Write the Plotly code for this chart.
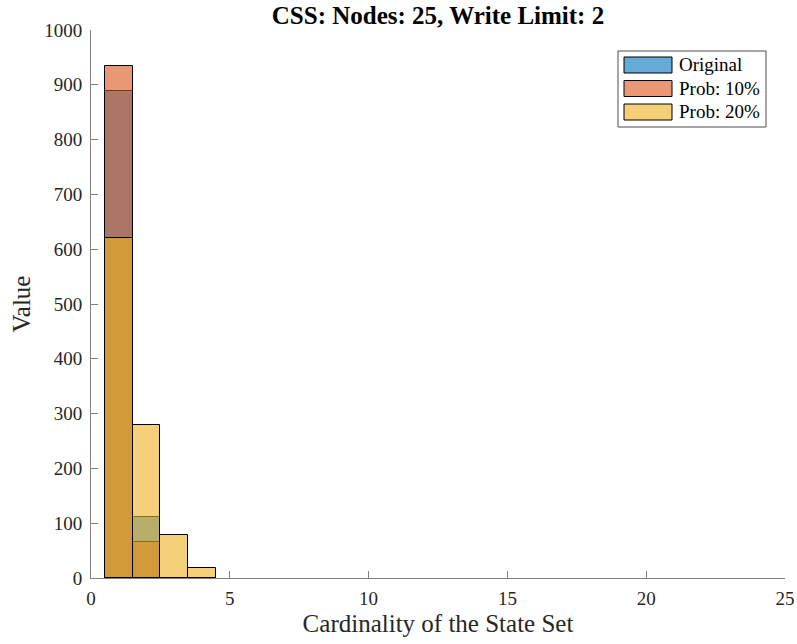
import plotly.graph_objects as go

# ---- data ----
bins = [1, 2, 3, 4]
original = [889, 111, 0, 0]
prob10 = [934, 66, 0, 0]
prob20 = [621, 280, 79, 19]
series_names = ["Original", "Prob: 10%", "Prob: 20%"]
series_colors = ["rgba(0,114,189,0.6)", "rgba(217,83,25,0.6)", "rgba(237,177,32,0.6)"]
x_ticks = [0, 5, 10, 15, 20, 25]
y_ticks = [0, 100, 200, 300, 400, 500, 600, 700, 800, 900, 1000]

W, H = 797, 644
L, R, T, B = 91, 12, 30, 66
pw, ph = W - L - R, H - T - B

FONT = "Liberation Serif, Times New Roman, serif"
AX = "#808080"
TXT = "#262626"

fig = go.Figure()
for name, vals, col in zip(series_names, [original, prob10, prob20], series_colors):
    fig.add_trace(go.Bar(
        x=bins, y=vals, width=1, name=name, showlegend=False,
        marker=dict(color=col, line=dict(color="black", width=1)),
    ))

def px(xp):
    return (xp - L) / pw

def py(yp):
    return (H - B - yp) / ph

# custom MATLAB-like legend
shapes = [dict(type="rect", xref="paper", yref="paper",
               x0=px(618), x1=px(766), y0=py(127), y1=py(51),
               line=dict(color="#4d4d4d", width=1), fillcolor="white", layer="above")]
annotations = []
row_centers = [65, 88.5, 112]
for name, col, cy in zip(series_names, series_colors, row_centers):
    shapes.append(dict(type="rect", xref="paper", yref="paper",
                       x0=px(624), x1=px(672), y0=py(cy + 8), y1=py(cy - 8),
                       line=dict(color="black", width=1), fillcolor=col, layer="above"))
    annotations.append(dict(xref="paper", yref="paper", x=px(677), y=py(cy),
                            xanchor="left", yanchor="middle", showarrow=False,
                            text=name, font=dict(family=FONT, size=19, color="black")))

fig.update_layout(
    width=W, height=H,
    margin=dict(l=L, r=R, t=T, b=B),
    paper_bgcolor="white", plot_bgcolor="white",
    barmode="overlay", bargap=0,
    font=dict(family=FONT, size=19, color=TXT),
    title=dict(text="<b>CSS: Nodes: 25, Write Limit: 2</b>", x=0.5, xanchor="center", xref="paper",
               y=1 - 15 / H, yanchor="middle", yref="container",
               font=dict(family=FONT, size=25, color="black")),
    xaxis=dict(range=[0, 25], tickvals=x_ticks, ticks="inside", ticklen=7, tickcolor=AX,
               showline=True, linecolor=AX, linewidth=1, showgrid=False, zeroline=False,
               automargin=False, ticklabelstandoff=3,
               tickfont=dict(family=FONT, size=19, color=TXT),
               title=dict(text="Cardinality of the State Set", standoff=6,
                          font=dict(family=FONT, size=25, color=TXT))),
    yaxis=dict(range=[0, 1000], tickvals=y_ticks, ticks="inside", ticklen=7, tickcolor=AX,
               showline=True, linecolor=AX, linewidth=1, showgrid=False, zeroline=False,
               automargin=False, ticklabelstandoff=4,
               tickfont=dict(family=FONT, size=19, color=TXT),
               title=dict(text="Value", standoff=6,
                          font=dict(family=FONT, size=25, color=TXT))),
    shapes=shapes, annotations=annotations,
)

fig.write_html("out.html")
